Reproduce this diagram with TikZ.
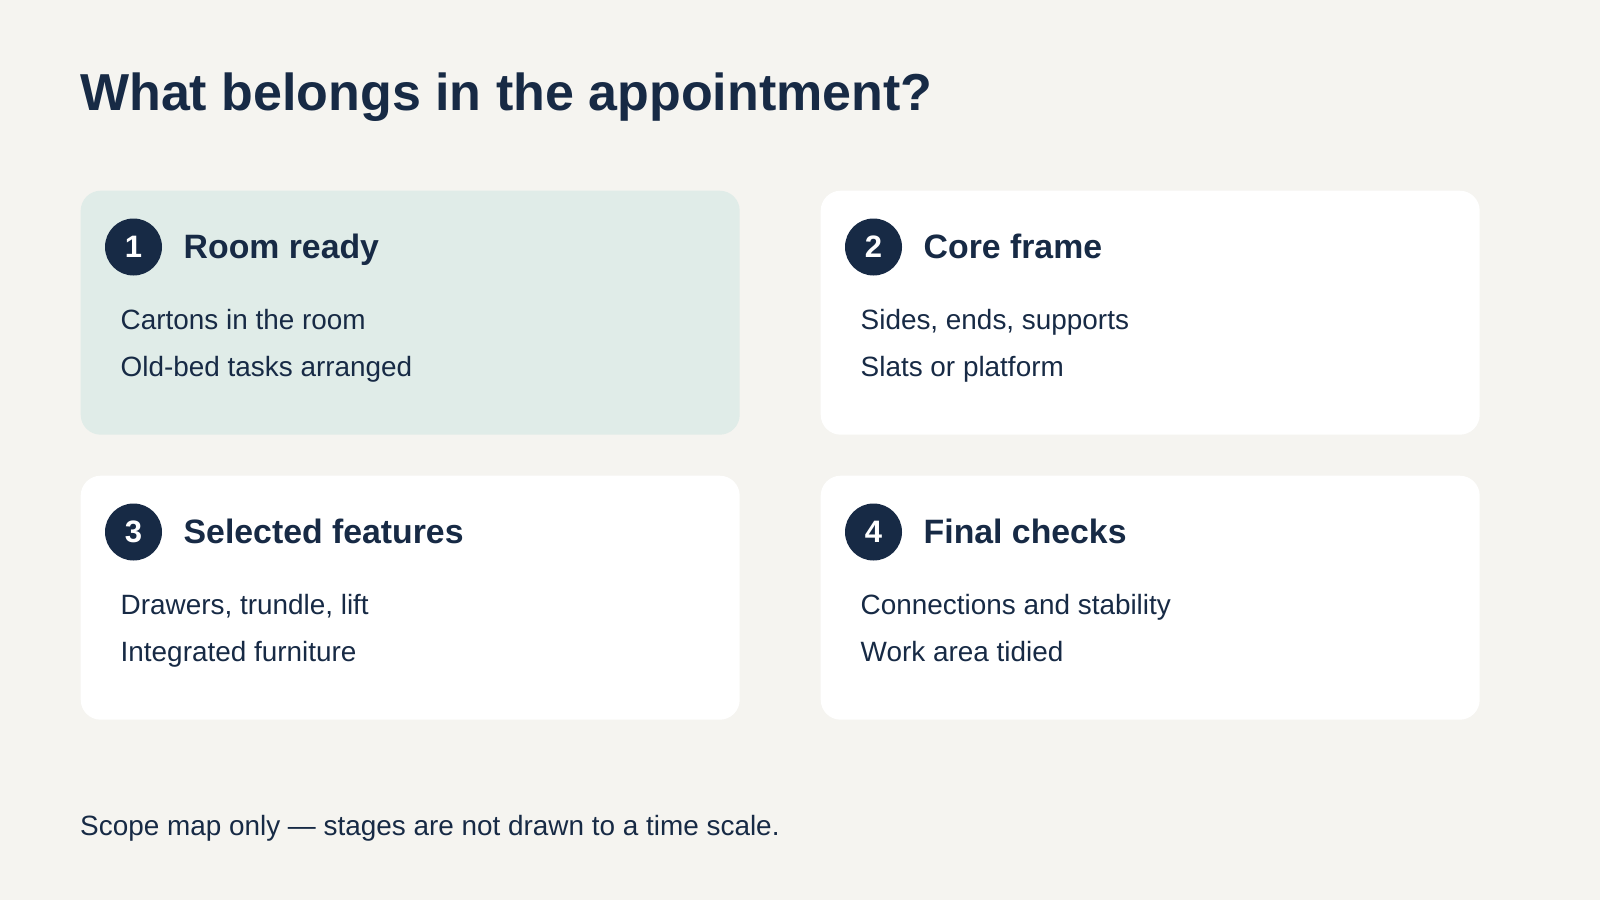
\documentclass[tikz,border=0pt]{standalone}
\usepackage{fontspec}
\setmainfont{Liberation Sans}
\definecolor{pagebg}{HTML}{F5F4F0}
\definecolor{navy}{HTML}{172A45}
\definecolor{tealcard}{HTML}{E0ECE8}
\tikzset{
  card/.style={rectangle,rounded corners=20pt,draw=none,fill=white,anchor=north west,
    minimum width=659pt,minimum height=244pt,inner sep=0pt},
  numdot/.style={circle,fill=navy,text=white,minimum size=57pt,inner sep=0pt,
    font=\bfseries\fontsize{31}{36}\selectfont},
  headtxt/.style={anchor=base west,inner sep=0pt,text=navy,font=\bfseries\fontsize{33.8}{40}\selectfont},
  itemtxt/.style={anchor=base west,inner sep=0pt,text=navy,font=\fontsize{27.9}{33}\selectfont}
}
\begin{document}
\begin{tikzpicture}[x=1pt,y=-1pt]
    \fill[pagebg] (0,0) rectangle (1600,900);
    \useasboundingbox (0,0) rectangle (1600,900);
    \node[anchor=base west,inner sep=0pt,text=navy,font=\bfseries\fontsize{52}{60}\selectfont] (title) at (80,110.5) {What belongs in the appointment?};
    % cards
    \node[card,fill=tealcard] (C1) at (80.5,190.5) {};
    \node[card] (C2) at (820.5,190.5) {};
    \node[card] (C3) at (80.5,475.5) {};
    \node[card] (C4) at (820.5,475.5) {};
    % numbers
    \node[numdot] (n1) at (133.5,247) {1};
    \node[numdot] (n2) at (873.5,247) {2};
    \node[numdot] (n3) at (133.5,532) {3};
    \node[numdot] (n4) at (873.5,532) {4};
    % headings
    \node[headtxt] (h1) at (183.5,258.3) {Room ready};
    \node[headtxt] (h2) at (923.5,258.3) {Core frame};
    \node[headtxt] (h3) at (183.5,543.3) {Selected features};
    \node[headtxt] (h4) at (923.5,543.3) {Final checks};
    % items
    \node[itemtxt] (i1a) at (120.5,329.3) {Cartons in the room};
    \node[itemtxt] (i1b) at (120.5,376.7) {Old-bed tasks arranged};
    \node[itemtxt] (i2a) at (860.5,329.3) {Sides, ends, supports};
    \node[itemtxt] (i2b) at (860.5,376.7) {Slats or platform};
    \node[itemtxt] (i3a) at (120.5,614.3) {Drawers, trundle, lift};
    \node[itemtxt] (i3b) at (120.5,661.7) {Integrated furniture};
    \node[itemtxt] (i4a) at (860.5,614.3) {Connections and stability};
    \node[itemtxt] (i4b) at (860.5,661.7) {Work area tidied};
    \node[itemtxt] (note) at (80,835) {Scope map only — stages are not drawn to a time scale.};
\end{tikzpicture}
\end{document}
